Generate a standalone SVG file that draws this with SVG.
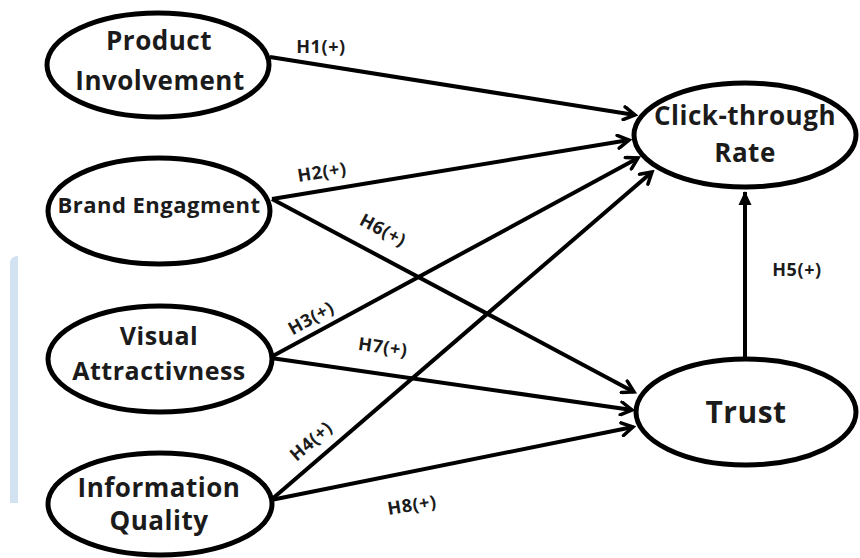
<svg xmlns="http://www.w3.org/2000/svg" width="860" height="558" viewBox="0 0 860 558">
<defs>
<style>
.node ellipse{fill:#fff;stroke:#000;stroke-width:5}
.nt{font-family:"Open Sans","Liberation Sans",sans-serif;font-weight:700;fill:#1b1b1b;text-anchor:middle;letter-spacing:0.5px}
.lbl{font-family:"Open Sans","Liberation Sans",sans-serif;font-weight:700;font-size:18px;fill:#1b1b1b;text-anchor:middle;letter-spacing:0.6px}
.edges line{stroke:#000;stroke-width:4;marker-end:url(#arr)}
</style>
<marker id="arr" viewBox="0 0 16 16" refX="13" refY="8" markerWidth="16" markerHeight="16" markerUnits="userSpaceOnUse" orient="auto">
<path d="M2,1.5 L13,8 L2,14.5" fill="none" stroke="#000" stroke-width="3.5" stroke-linecap="round"/>
</marker>
<marker id="tri" viewBox="0 0 16 16" refX="14" refY="8" markerWidth="16" markerHeight="16" markerUnits="userSpaceOnUse" orient="auto">
<path d="M1,1.5 L15,8 L1,14.5 Z" fill="#000"/>
</marker>
</defs>
<rect width="860" height="558" fill="#fff"/>
<path d="M10,503 L10,264 Q10,256 18,256 L18,503 Z" fill="#d3e2f1"/>
<g class="edges" id="edges">
<line x1="270" y1="57" x2="635" y2="115"/>
<line x1="272" y1="199" x2="629" y2="140"/>
<line x1="271" y1="357" x2="638" y2="158"/>
<line x1="271" y1="500" x2="652" y2="172"/>
<line x1="272" y1="199" x2="634" y2="392"/>
<line x1="271" y1="358" x2="632" y2="410"/>
<line x1="271" y1="500" x2="633" y2="427"/>
<line x1="745" y1="358" x2="745" y2="192" style="marker-end:url(#tri)"/>
<text class="lbl" x="321" y="53">H1(+)</text>
<text class="lbl" transform="translate(322,172) rotate(-9)" dy="0.35em">H2(+)</text>
<text class="lbl" transform="translate(383,230) rotate(28)" dy="0.35em">H6(+)</text>
<text class="lbl" transform="translate(311,318) rotate(-29)" dy="0.35em">H3(+)</text>
<text class="lbl" transform="translate(383,347) rotate(8)" dy="0.35em">H7(+)</text>
<text class="lbl" transform="translate(311,441) rotate(-41)" dy="0.35em">H4(+)</text>
<text class="lbl" transform="translate(412,505) rotate(-9)" dy="0.35em">H8(+)</text>
<text class="lbl" x="797" y="276">H5(+)</text>
</g>
<g class="node" id="product-involvement">
<ellipse cx="158" cy="65" rx="111" ry="52"/>
<text class="nt" x="159" y="50" font-size="26">Product</text>
<text class="nt" x="160" y="90" font-size="26">Involvement</text>
</g>
<g class="node" id="brand-engagment">
<ellipse cx="159" cy="211" rx="111" ry="53"/>
<text class="nt" x="159" y="213" font-size="22">Brand Engagment</text>
</g>
<g class="node" id="visual-attractivness">
<ellipse cx="160" cy="359" rx="112" ry="53"/>
<text class="nt" x="159" y="345" font-size="25">Visual</text>
<text class="nt" x="159" y="380" font-size="25">Attractivness</text>
</g>
<g class="node" id="information-quality">
<ellipse cx="160" cy="504" rx="112" ry="51"/>
<text class="nt" x="159" y="497" font-size="26">Information</text>
<text class="nt" x="159" y="530" font-size="26">Quality</text>
</g>
<g class="node" id="click-through-rate">
<ellipse cx="745" cy="135" rx="111" ry="52"/>
<text class="nt" x="745" y="125" font-size="26">Click-through</text>
<text class="nt" x="745" y="162" font-size="26">Rate</text>
</g>
<g class="node" id="trust">
<ellipse cx="746" cy="412" rx="110" ry="53"/>
<text class="nt" x="746" y="423" font-size="30">Trust</text>
</g>
</svg>
